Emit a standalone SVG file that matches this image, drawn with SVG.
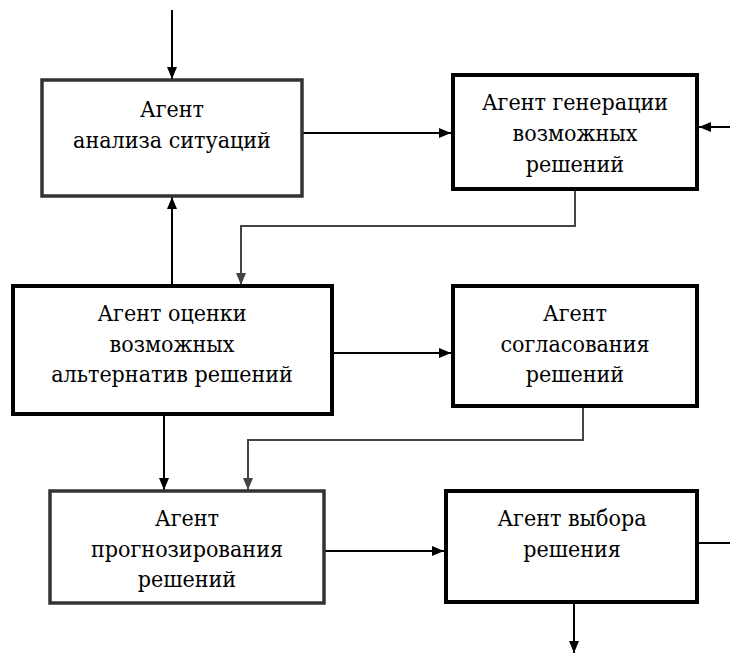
<svg xmlns="http://www.w3.org/2000/svg" width="730" height="655" viewBox="0 0 730 655">
<defs>
<style>
.box{fill:#fff;stroke:#000;stroke-width:4}
.boxg{fill:#fff;stroke:#333;stroke-width:3.5}
.c{fill:none;stroke:#000;stroke-width:2}
.cg{fill:none;stroke:#444;stroke-width:2}
text{font-family:"DejaVu Serif Condensed","DejaVu Serif",serif;font-stretch:condensed;font-size:23px;fill:#000;text-anchor:middle}
</style>
<marker id="a" viewBox="0 0 12 10" refX="12" refY="5" markerWidth="12" markerHeight="10" markerUnits="userSpaceOnUse" orient="auto">
<path d="M0,0 L12,5 L0,10 Z" fill="#000"/>
</marker>
<marker id="ag" viewBox="0 0 12 10" refX="12" refY="5" markerWidth="12" markerHeight="10" markerUnits="userSpaceOnUse" orient="auto">
<path d="M0,0 L12,5 L0,10 Z" fill="#444"/>
</marker>
</defs>
<rect width="730" height="655" fill="#fff"/>
<g id="connectors">
<line class="c" x1="172" y1="10" x2="172" y2="79" marker-end="url(#a)"/>
<line class="c" x1="303" y1="133" x2="451" y2="133" marker-end="url(#a)"/>
<line class="c" x1="730" y1="127" x2="699" y2="127" marker-end="url(#a)"/>
<polyline class="cg" points="575,190 575,226 241,226 241,285" marker-end="url(#ag)"/>
<line class="c" x1="172" y1="285" x2="172" y2="197" marker-end="url(#a)"/>
<line class="c" x1="333" y1="353" x2="451" y2="353" marker-end="url(#a)"/>
<polyline class="cg" points="583,407 583,440 248,440 248,490" marker-end="url(#ag)"/>
<line class="c" x1="164" y1="415" x2="164" y2="490" marker-end="url(#a)"/>
<line class="c" x1="325" y1="551" x2="444" y2="551" marker-end="url(#a)"/>
<line class="c" x1="698" y1="543" x2="730" y2="543"/>
<line class="c" x1="574" y1="603" x2="574" y2="653" marker-end="url(#a)"/>
</g>
<g id="n1">
<rect class="boxg" x="42" y="80" width="260" height="116"/>
<text x="172" y="117">Агент</text>
<text x="172" y="148">анализа ситуаций</text>
</g>
<g id="n2">
<rect class="box" x="453" y="75" width="244" height="114"/>
<text x="575" y="110">Агент генерации</text>
<text x="575" y="141">возможных</text>
<text x="575" y="172">решений</text>
</g>
<g id="n3">
<rect class="box" x="13" y="286" width="319" height="128"/>
<text x="172" y="321">Агент оценки</text>
<text x="172" y="352">возможных</text>
<text x="172" y="382">альтернатив решений</text>
</g>
<g id="n4">
<rect class="box" x="453" y="286" width="244" height="120"/>
<text x="575" y="321">Агент</text>
<text x="575" y="352">согласования</text>
<text x="575" y="382">решений</text>
</g>
<g id="n5">
<rect class="boxg" x="50" y="491" width="274" height="112"/>
<text x="187" y="526">Агент</text>
<text x="187" y="557">прогнозирования</text>
<text x="187" y="587">решений</text>
</g>
<g id="n6">
<rect class="box" x="446" y="491" width="251" height="111"/>
<text x="572" y="526">Агент выбора</text>
<text x="572" y="557">решения</text>
</g>
</svg>
